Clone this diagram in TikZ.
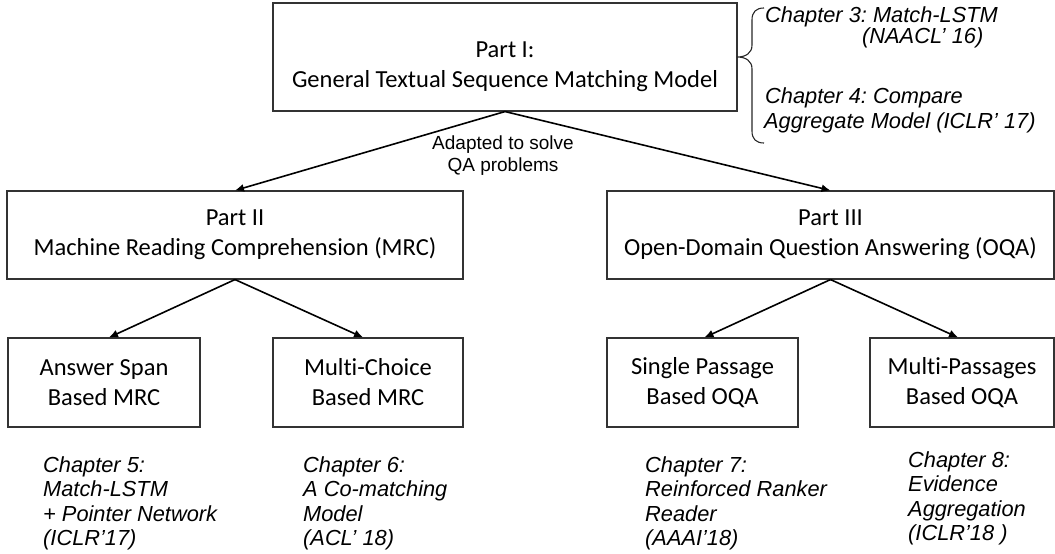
\documentclass[tikz,border=0pt]{standalone}
\usepackage{fontspec}
\setmainfont{Carlito}[Ligatures={NoCommon}]
\newfontfamily\arialf{Liberation Sans}
\usetikzlibrary{arrows.meta}
\frenchspacing
\begin{document}
\begin{tikzpicture}[x=1pt,y=-1pt,
  box/.style={draw=black!80, line width=1.1pt, inner sep=0pt, align=center,
    font=\fontsize{24.5}{30}\selectfont},
  boxtext/.style={align=center, font=\fontsize{24.5}{30}\selectfont, inner sep=0pt},
  conn/.style={-{Latex[length=9pt,width=8pt]}, line width=1.6pt},
  chap/.style={font=\arialf\itshape\fontsize{21.8}{24.5}\selectfont, align=left,
    inner sep=0pt, anchor=north west},
  chapline/.style={font=\arialf\itshape\fontsize{21.8}{24.5}\selectfont,
    inner sep=0pt, anchor=base west},
  note/.style={font=\arialf\fontsize{19}{22}\selectfont, align=center, inner sep=0pt}]
\useasboundingbox (0,0) rectangle (1055,554);

% Part I
\node[box, minimum width=464pt, minimum height=108pt] (P1) at (505,57) {};
\node[boxtext] (P1t) at (505,67) {Part I:\\General Textual Sequence Matching Model};

% Parts II and III
\node[box, minimum width=456pt, minimum height=88pt] (P2) at (235,235)
  {Part II\\Machine Reading Comprehension (MRC)};
\node[box, minimum width=447pt, minimum height=88pt] (P3) at (830.5,235)
  {Part III\\Open-Domain Question Answering (OQA)};

% leaves
\node[box, minimum width=192pt, minimum height=89pt] (A) at (104,382.5)
  {Answer Span\\Based MRC};
\node[box, minimum width=190pt, minimum height=89pt] (B) at (368,382.5)
  {Multi-Choice\\Based MRC};
\node[box, minimum width=191pt, minimum height=89pt] (C) at (702.5,382.5)
  {Single Passage\\Based OQA};
\node[box, minimum width=184pt, minimum height=89pt] (D) at (962,382.5)
  {Multi-Passages\\Based OQA};

% connectors
\draw[conn] (P1.south) -- (P2.north);
\draw[conn] (P1.south) -- (P3.north);
\draw[conn] (P2.south) -- ([xshift=5pt]A.north);
\draw[conn] (P2.south) -- ([xshift=-5pt]B.north);
\draw[conn] (P3.south) -- ([xshift=2pt]C.north);
\draw[conn] (P3.south) -- ([xshift=-4pt]D.north);

\node[note] (adapt) at (503,156) {Adapted to solve\\QA problems};

% brace and chapters 3, 4
\draw[line width=1.1pt, black!85] (764,8) .. controls (756,8) and (752,12) .. (752,20)
  -- (752,45) .. controls (752,53) and (746,57) .. (737,57)
  .. controls (746,57) and (752,61) .. (752,69)
  -- (752,131) .. controls (752,139) and (756,143) .. (764,143);
\node[chapline] (c3a) at (765,23) {Chapter 3: Match-LSTM};
\node[chapline] (c3b) at (862,43) {(NAACL’ 16)};
\node[chapline] (c4a) at (765,103) {Chapter 4: Compare};
\node[chapline] (c4b) at (764,128) {Aggregate Model (ICLR’ 17)};

% chapters 5-8
\node[chap] (c5) at (43,456) {Chapter 5:\\Match-LSTM\\+ Pointer Network\\(ICLR’17)};
\node[chap] (c6) at (303,456) {Chapter 6:\\A Co-matching\\Model\\(ACL’ 18)};
\node[chap] (c7) at (645,456) {Chapter 7:\\Reinforced Ranker\\Reader\\(AAAI’18)};
\node[chap] (c8) at (908,451) {Chapter 8:\\Evidence\\Aggregation\\(ICLR’18 )};
\end{tikzpicture}
\end{document}
